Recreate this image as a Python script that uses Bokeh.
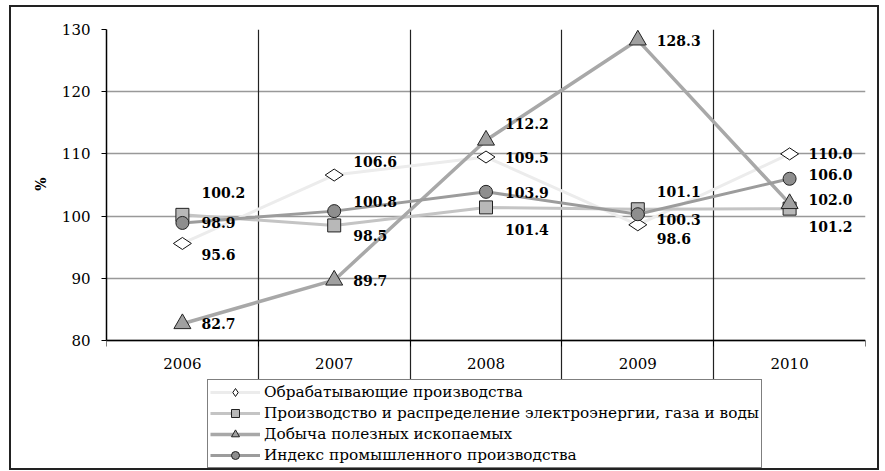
import numpy as np
from bokeh.plotting import figure
from bokeh.models import (ColumnDataSource, FixedTicker, Legend, LegendItem, Range1d,
                          LinearAxis, Grid, Title)
from bokeh.core.properties import value
from bokeh.embed import file_html
from bokeh.resources import INLINE

years = ["2006", "2007", "2008", "2009", "2010"]
names = ["Обрабатывающие производства",
         "Производство и распределение электроэнергии, газа и воды",
         "Добыча полезных ископаемых",
         "Индекс промышленного производства"]
manuf = [95.6, 106.6, 109.5, 98.6, 110.0]
power = [100.2, 98.5, 101.4, 101.1, 101.2]
mining = [82.7, 89.7, 112.2, 128.3, 102.0]
index = [98.9, 100.8, 103.9, 100.3, 106.0]
y_ticks = [80, 90, 100, 110, 120, 130]

# label offsets (style, px): one per point
off_manuf = [11, -14, 0, 14, 0]
off_power = [-22, 10, 22, -18, 18]
off_mining = [0, 0, -17, 0, -4]
off_index = [0, -10, 1, 5, -4]

xs = list(range(len(years)))

# frame extends below the value axis to host the legend (legend is clipped to frame)
FRAME_H = 439
PX_PER_UNIT = 311 / 50
y_min = 130 - FRAME_H / PX_PER_UNIT

p = figure(width=866, height=461, frame_width=759, frame_height=FRAME_H,
           output_backend="svg", toolbar_location=None,
           x_range=Range1d(-0.5, 4.5), y_range=Range1d(y_min, 130),
           x_axis_location=None,
           min_border_left=95, min_border_right=12, min_border_top=22, min_border_bottom=0)
p.styles = {"border": "2px solid #222", "margin-left": "9px", "margin-top": "5px"}
p.outline_line_color = None

SERIF = "DejaVu Serif"
p.yaxis.ticker = FixedTicker(ticks=y_ticks, minor_ticks=[])
p.yaxis.bounds = (80, 130)
p.yaxis.axis_line_color = "black"
p.yaxis.axis_line_width = 1.5
p.yaxis.major_tick_out = 5
p.yaxis.major_tick_in = 0
p.yaxis.minor_tick_out = 0
p.yaxis.major_label_standoff = 11
p.yaxis.major_label_text_font = SERIF
p.yaxis.major_label_text_font_size = "15px"
p.yaxis.major_label_text_color = "black"

ytitle = Title(text="%", align="right", offset=148, standoff=19,
               text_font=SERIF, text_font_style="bold", text_font_size="14px",
               text_color="black")
p.add_layout(ytitle, "left")

xaxis = LinearAxis(fixed_location=80,
                   ticker=FixedTicker(ticks=xs, minor_ticks=[-0.5, 0.5, 1.5, 2.5, 3.5, 4.5]),
                   major_label_overrides={i: y for i, y in enumerate(years)},
                   axis_line_color="black", axis_line_width=1.5,
                   major_tick_out=0, major_tick_in=0,
                   minor_tick_out=6, minor_tick_in=0, minor_tick_line_color="black",
                   major_label_standoff=11, major_label_text_font=SERIF,
                   major_label_text_font_size="15px", major_label_text_color="black")
p.add_layout(xaxis, "below")

p.xgrid.visible = False
p.ygrid.ticker = FixedTicker(ticks=y_ticks)
p.ygrid.grid_line_color = "#999999"
p.ygrid.grid_line_width = 1.5

vgrid = Grid(dimension=0, ticker=FixedTicker(ticks=[0.5, 1.5, 2.5, 3.5]), bounds=(80, 130),
             grid_line_color="#222222", grid_line_width=1.2)
edge = Grid(dimension=0, ticker=FixedTicker(ticks=[4.5]), bounds=(80, 130),
            grid_line_color="#999999", grid_line_width=1.5)
p.add_layout(vgrid)
p.add_layout(edge)

src = ColumnDataSource(dict(x=xs, manuf=manuf, power=power, mining=mining, index=index,
                            lm=[f"{v:.1f}" for v in manuf], lp=[f"{v:.1f}" for v in power],
                            lmi=[f"{v:.1f}" for v in mining], li=[f"{v:.1f}" for v in index],
                            om=off_manuf, op=off_power, omi=off_mining, oi=off_index))

l1 = p.line("x", "manuf", source=src, line_color="#ececec", line_width=3)
m1 = p.scatter("x", "manuf", source=src, marker="diamond", angle=np.pi / 2, size=18,
               fill_color="white", line_color="#111111", line_width=1)
l2 = p.line("x", "power", source=src, line_color="#c4c4c4", line_width=3)
m2 = p.scatter("x", "power", source=src, marker="square", size=13,
               fill_color="#b8b8b8", line_color="#222222", line_width=1)
l3 = p.line("x", "mining", source=src, line_color="#a8a8a8", line_width=3.5)
m3 = p.scatter("x", "mining", source=src, marker="triangle", size=17,
               fill_color="#a0a0a0", line_color="#222222", line_width=1)
l4 = p.line("x", "index", source=src, line_color="#9c9c9c", line_width=3)
m4 = p.scatter("x", "index", source=src, marker="circle", size=13,
               fill_color="#8e8e8e", line_color="#222222", line_width=1)

for col, yc, oc in [("lm", "manuf", "om"), ("lp", "power", "op"),
                    ("lmi", "mining", "omi"), ("li", "index", "oi")]:
    p.text("x", yc, text=col, source=src, x_offset=19, y_offset=oc,
           text_font=value(SERIF), text_font_style="bold", text_font_size="14px",
           text_baseline="middle", text_align="left", text_color="black")

legend = Legend(items=[LegendItem(label=names[0], renderers=[l1, m1]),
                       LegendItem(label=names[1], renderers=[l2, m2]),
                       LegendItem(label=names[2], renderers=[l3, m3]),
                       LegendItem(label=names[3], renderers=[l4, m4])],
                location=(101, 0), orientation="vertical",
                label_text_font=SERIF, label_text_font_size="15.3px", label_text_color="black",
                glyph_width=50, glyph_height=20, label_height=20, spacing=1,
                padding=2, margin=0, label_standoff=4,
                border_line_color="black", border_line_width=1,
                background_fill_alpha=1)
p.add_layout(legend, "center")

open("out.html", "w").write(file_html(p, INLINE))
